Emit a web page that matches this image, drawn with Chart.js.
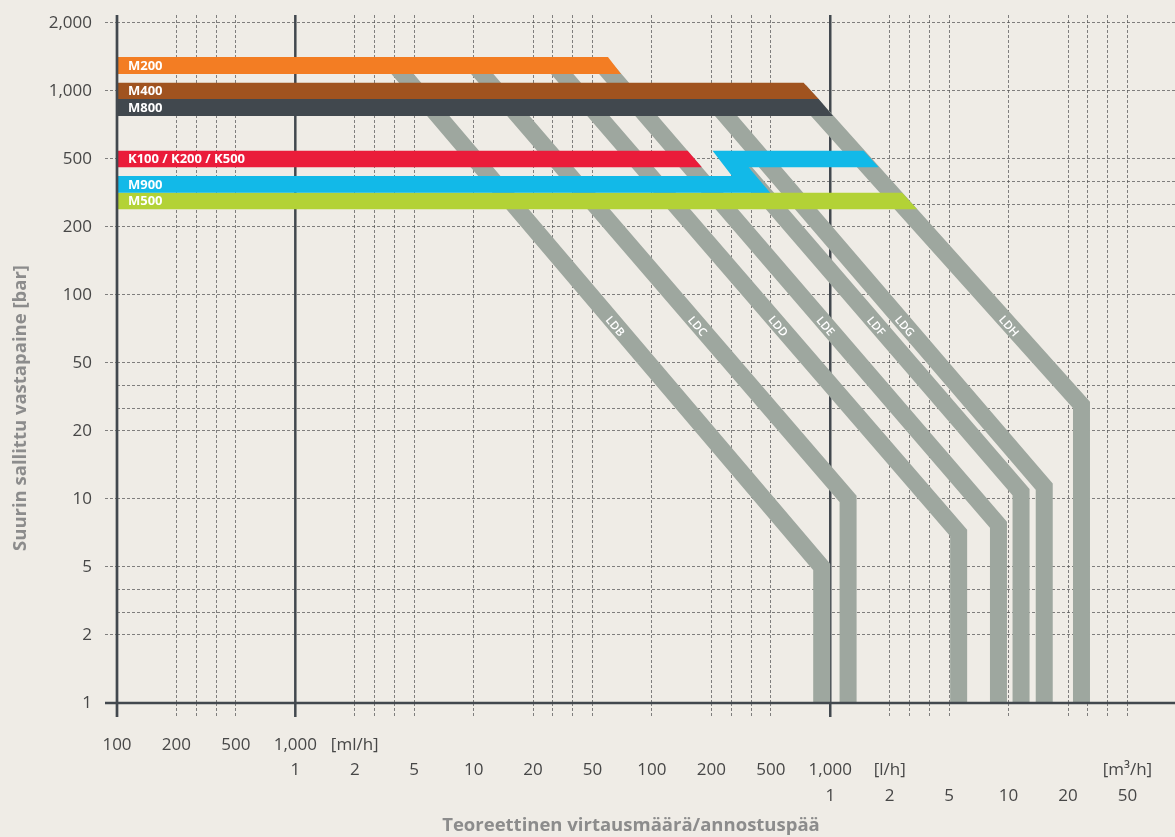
<!DOCTYPE html>
<html>
<head>
<meta charset="utf-8">
<script src="https://cdn.jsdelivr.net/npm/chart.js@4.4.1/dist/chart.umd.min.js"></script>
<style>
  html, body { margin: 0; padding: 0; background: #efece6; }
  canvas { display: block; }
</style>
</head>
<body>
<canvas id="chart" width="1175" height="837"></canvas>
<script>
// Axis range: flow in l/h, pressure in bar
const flowMin = 0.1;
const flowMax = 90000;
const pressureMin = 1;
const pressureMax = 2350;

// Grid lines (1-2-3-4-5 per decade)
const xGridValues = [0.1, 0.2, 0.3, 0.4, 0.5, 1, 2, 3, 4, 5, 10, 20, 30, 40, 50, 100, 200, 300, 400, 500,
  1000, 2000, 3000, 4000, 5000, 10000, 20000, 30000, 40000, 50000];
const yGridValues = [1, 2, 3, 4, 5, 10, 20, 30, 40, 50, 100, 200, 300, 400, 500, 1000, 2000];

// Tick labels
const yTickValues = [1, 2, 5, 10, 20, 50, 100, 200, 500, 1000, 2000];
const yTickLabels = ['1', '2', '5', '10', '20', '50', '100', '200', '500', '1,000', '2,000'];
const xTickValues = [0.1, 0.2, 0.5, 1, 2, 5, 10, 20, 50, 100, 200, 500, 1000, 2000, 5000, 10000, 20000, 50000];
const xLabelsMl = ['100', '200', '500', '1,000', '[ml/h]', '', '', '', '', '', '', '', '', '', '', '', '', ''];
const xLabelsL = ['', '', '', '1', '2', '5', '10', '20', '50', '100', '200', '500', '1,000', '[l/h]', '', '', '', '[m³/h]'];
const xLabelsM3 = ['', '', '', '', '', '', '', '', '', '', '', '', '1', '2', '5', '10', '20', '50'];

// Pump ranges (outline corners: flow l/h, pressure bar)
const barNames = ['M200', 'M400', 'M800', 'K100 / K200 / K500', 'M900', 'M500'];
const barFlows = [
  [0.1, 63, 74, 0.1],
  [0.1, 776, 902, 0.1],
  [0.1, 902, 1047, 0.1],
  [0.1, 160, 184, 0.1],
  [0.1, 304, 206, 1562, 1815, 388, 497, 0.1],
  [0.1, 2627, 3383, 0.1]
];
const barPressures = [
  [1500, 1500, 1250, 1250],
  [1120, 1120, 940, 940],
  [940, 940, 815, 815],
  [560, 560, 463, 463],
  [425, 425, 560, 560, 463, 463, 351, 351],
  [351, 351, 278, 278]
];
const barColors = ['#f37d23', '#a0531f', '#41484e', '#ea1c3a', '#12b9e8', '#b3d236'];

// Dosing heads: start point, knee point (flow l/h, pressure bar)
const bandNames = ['LDB', 'LDC', 'LDD', 'LDE', 'LDF', 'LDG', 'LDH'];
const bandTopFlow = [4.06, 10.25, 31.1, 59, 313, 240, 744];
const bandTopPressure = [1370, 1370, 1370, 1370, 500, 875, 1000];
const bandKneeFlow = [928, 1300, 5800, 9150, 12100, 16000, 26800];
const bandKneePressure = [5, 10, 7.5, 8.1, 11, 11.8, 31.5];

const bandColor = '#9ea79f';
const gridColor = 'rgba(80,80,80,0.7)';
const axisColor = '#42484e';
const textColor = '#474747';

// position on the 1-2-5 scale: three equal steps per decade
function toStep(v) {
  const d = Math.floor(Math.log10(v) + 1e-9);
  const m = v / Math.pow(10, d);
  let r;
  if (m < 2) r = m - 1;
  else if (m < 5) r = 1 + (m - 2) / 3;
  else r = 2 + (m - 5) / 5;
  return 3 * d + r;
}

const datasets = [];
barNames.forEach((name, i) => {
  datasets.push({
    label: name,
    kind: 'bar',
    data: barFlows[i].map((f, j) => ({ x: toStep(f), y: toStep(barPressures[i][j]) })),
    backgroundColor: barColors[i],
    borderColor: 'rgba(0,0,0,0)',
    borderWidth: 0,
    fill: 'shape',
    pointRadius: 0,
    tension: 0,
    order: 1
  });
});
bandNames.forEach((name, i) => {
  datasets.push({
    label: name,
    kind: 'band',
    data: [
      { x: toStep(bandTopFlow[i]), y: toStep(bandTopPressure[i]) },
      { x: toStep(bandKneeFlow[i]), y: toStep(bandKneePressure[i]) },
      { x: toStep(bandKneeFlow[i]), y: toStep(pressureMin) }
    ],
    borderColor: bandColor,
    borderWidth: 17,
    borderJoinStyle: 'miter',
    borderCapStyle: 'butt',
    fill: false,
    pointRadius: 0,
    tension: 0,
    order: 2
  });
});

// Axis lines, strong gridlines, labels on the marks and axis titles
const decorations = {
  id: 'decorations',
  beforeDatasetsDraw(chart) {
    const { ctx, chartArea, scales: { x } } = chart;
    ctx.save();
    ctx.strokeStyle = axisColor;
    ctx.lineWidth = 2.5;
    [1, 1000].forEach(v => {
      const px = x.getPixelForValue(toStep(v));
      ctx.beginPath();
      ctx.moveTo(px, chartArea.top);
      ctx.lineTo(px, chartArea.bottom + 14);
      ctx.stroke();
    });
    ctx.restore();
  },
  afterDatasetsDraw(chart) {
    const { ctx, chartArea, scales: { x, y } } = chart;
    ctx.save();
    // axes
    ctx.strokeStyle = axisColor;
    ctx.lineWidth = 2.7;
    ctx.beginPath();
    ctx.moveTo(chartArea.left, chartArea.top);
    ctx.lineTo(chartArea.left, chartArea.bottom + 14);
    ctx.moveTo(chartArea.left - 12, chartArea.bottom);
    ctx.lineTo(chartArea.right, chartArea.bottom);
    ctx.stroke();

    // pump names
    ctx.fillStyle = '#ffffff';
    ctx.font = 'bold 13px "Open Sans"';
    ctx.textAlign = 'left';
    ctx.textBaseline = 'middle';
    chart.data.datasets.forEach((ds, i) => {
      if (ds.kind !== 'bar') return;
      const pts = chart.getDatasetMeta(i).data;
      const first = pts[0], last = pts[pts.length - 1];
      ctx.fillText(ds.label, first.x + 11, (first.y + last.y) / 2 + 0.5);
    });

    // dosing head names along the bands
    const labelY = y.getPixelForValue(toStep(77));
    ctx.font = '600 11.5px "Open Sans"';
    ctx.textAlign = 'center';
    chart.data.datasets.forEach((ds, i) => {
      if (ds.kind !== 'band') return;
      const pts = chart.getDatasetMeta(i).data;
      const p0 = pts[0], p1 = pts[1];
      const f = (labelY - p0.y) / (p1.y - p0.y);
      const px = p0.x + f * (p1.x - p0.x);
      ctx.save();
      ctx.translate(px - 2, labelY);
      ctx.rotate(Math.atan2(p1.y - p0.y, p1.x - p0.x));
      ctx.fillText(ds.label, 0, 0.5);
      ctx.restore();
    });
    ctx.restore();
  },
  afterDraw(chart) {
    const { ctx } = chart;
    ctx.save();
    ctx.fillStyle = '#8c8c8c';
    ctx.font = 'bold 18.5px "Open Sans"';
    ctx.textAlign = 'center';
    ctx.textBaseline = 'middle';
    ctx.fillText('Teoreettinen virtausmäärä/annostuspää', 631, 826);
    ctx.translate(21, 408);
    ctx.rotate(-Math.PI / 2);
    ctx.fillText('Suurin sallittu vastapaine [bar]', 0, 0);
    ctx.restore();
  }
};

Chart.defaults.font.family = '"Open Sans", sans-serif';
Chart.defaults.color = textColor;

new Chart(document.getElementById('chart'), {
  type: 'line',
  data: { datasets: datasets },
  options: {
    responsive: false,
    animation: false,
    events: [],
    layout: { padding: { top: 15, right: 0, bottom: 0, left: 0 } },
    plugins: { legend: { display: false }, tooltip: { enabled: false } },
    scales: {
      x: {
        type: 'linear',
        min: toStep(flowMin),
        max: toStep(flowMax),
        afterBuildTicks(scale) {
          scale.ticks = xGridValues.map(v => ({ value: toStep(v) }));
        },
        afterFit(scale) {
          scale.height = 134;
          scale.paddingLeft = 0;
          scale.paddingRight = 0;
        },
        ticks: {
          autoSkip: false,
          maxRotation: 0,
          minRotation: 0,
          padding: 15,
          color: textColor,
          font: { size: 17, lineHeight: 1.5 },
          callback(value, index) {
            const v = xGridValues[index];
            const k = xTickValues.indexOf(v);
            if (k < 0) return '';
            return [xLabelsMl[k], xLabelsL[k], xLabelsM3[k]];
          }
        },
        grid: {
          color: gridColor,
          lineWidth: 1,
          tickLength: 14,
          tickColor: gridColor,
          tickBorderDash: [3, 2]
        },
        border: { display: false, dash: [3, 2] }
      },
      y: {
        type: 'linear',
        min: toStep(pressureMin),
        max: toStep(pressureMax),
        afterBuildTicks(scale) {
          scale.ticks = yGridValues.map(v => ({ value: toStep(v) }));
        },
        afterFit(scale) {
          scale.width = 117;
          scale.paddingTop = 0;
          scale.paddingBottom = 0;
        },
        ticks: {
          autoSkip: false,
          padding: 13,
          color: textColor,
          font: { size: 17 },
          callback(value, index) {
            const k = yTickValues.indexOf(yGridValues[index]);
            return k < 0 ? '' : yTickLabels[k];
          }
        },
        grid: {
          color: gridColor,
          lineWidth: 1,
          tickLength: 12,
          tickColor: ctx => (yTickValues.indexOf(yGridValues[ctx.index]) < 0 ? 'rgba(0,0,0,0)' : gridColor),
          tickBorderDash: [3, 2]
        },
        border: { display: false, dash: [3, 2] }
      }
    }
  },
  plugins: [decorations]
});
</script>
</body>
</html>
